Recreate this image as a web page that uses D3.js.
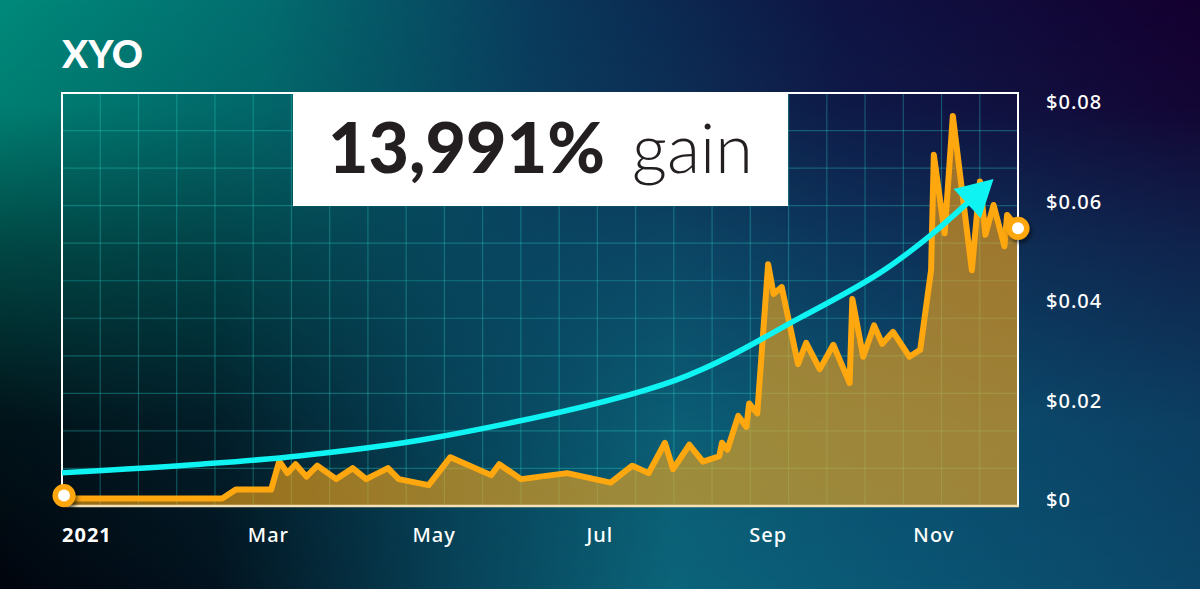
<!DOCTYPE html>
<html>
<head>
<meta charset="utf-8">
<script src="https://cdn.jsdelivr.net/npm/d3@7"></script>
<style>
  html, body { margin: 0; padding: 0; background: #0a3a50; }
  svg { display: block; }
</style>
</head>
<body>
<script>
// ---------- DATA ----------
const priceDates = ["2020-12-15","2021-02-12","2021-02-17","2021-03-02","2021-03-05","2021-03-08","2021-03-11","2021-03-15","2021-03-19","2021-03-26",
  "2021-04-01","2021-04-06","2021-04-14","2021-04-18","2021-04-29","2021-05-07","2021-05-22","2021-05-25","2021-06-02","2021-06-19",
  "2021-07-05","2021-07-13","2021-07-19","2021-07-25","2021-07-28","2021-08-03","2021-08-08","2021-08-14","2021-08-15","2021-08-17",
  "2021-08-21","2021-08-24","2021-08-25","2021-08-28","2021-09-01","2021-09-03","2021-09-06","2021-09-12","2021-09-15","2021-09-20",
  "2021-09-25","2021-10-01","2021-10-02","2021-10-06","2021-10-10","2021-10-13","2021-10-17","2021-10-23","2021-10-27","2021-10-31",
  "2021-11-01","2021-11-05","2021-11-08","2021-11-15","2021-11-18","2021-11-20","2021-11-23","2021-11-27","2021-11-28","2021-12-02"];
const priceValues = [0.0003,0.0003,0.0021,0.0021,0.0078,0.0054,0.0072,0.0047,0.0069,0.0042,
  0.0064,0.0042,0.0064,0.0042,0.0030,0.0086,0.0050,0.0072,0.0042,0.0054,
  0.0035,0.0069,0.0054,0.0115,0.0062,0.0111,0.0077,0.0088,0.0115,0.0101,
  0.0169,0.0147,0.0194,0.0174,0.0474,0.0414,0.0428,0.0273,0.0316,0.0263,
  0.0312,0.0235,0.0404,0.0288,0.0351,0.0314,0.0338,0.0288,0.0302,0.0462,
  0.0694,0.0536,0.0772,0.0462,0.0640,0.0533,0.0593,0.0510,0.0573,0.0546];

// trend arrow (hand-drawn guide in the original)
const trendDates = ["2020-12-15","2021-02-04","2021-03-13","2021-05-03","2021-07-29","2021-09-13","2021-10-12","2021-10-31","2021-11-23"];
const trendValues = [0.0055,0.0072,0.0089,0.0127,0.0241,0.0367,0.0456,0.0533,0.0645];

const xTickDates = ["2021-01-01","2021-03-01","2021-05-01","2021-07-01","2021-09-01","2021-11-01"];
const xTickLabels = ["2021","Mar","May","Jul","Sep","Nov"];
const yTickValues = [0, 0.02, 0.04, 0.06, 0.08];
const yTickLabels = ["$0","$0.02","$0.04","$0.06","$0.08"];

const titleText = "XYO";
const gainNumber = "13,991%";
const gainWord = "gain";
const domainStart = "2020-12-15", domainEnd = "2021-12-02";

// ---------- LAYOUT ----------
const W = 1200, H = 589;
const plot = {left: 62, right: 1018, top: 93, bottom: 506};
const parse = d3.utcParse("%Y-%m-%d");

const x = d3.scaleUtc().domain([parse(domainStart), parse(domainEnd)]).range([plot.left, plot.right]);
const y = d3.scaleLinear().domain([0, 0.08]).range([500, 102]);

const svg = d3.select("body").append("svg").attr("width", W).attr("height", H);
const defs = svg.append("defs");

// background gradients (bilinear: top row blended into bottom row)
const topRow = defs.append("linearGradient").attr("id","topRow").attr("gradientUnits","userSpaceOnUse")
  .attr("x1",0).attr("y1",0).attr("x2",W).attr("y2",0);
[[0,"#008a7b"],[0.22,"#036d6f"],[0.45,"#0a3a5c"],[0.7,"#0f1444"],[1,"#140030"]]
  .forEach(([o,c]) => topRow.append("stop").attr("offset",o).attr("stop-color",c));
const botRow = defs.append("linearGradient").attr("id","botRow").attr("gradientUnits","userSpaceOnUse")
  .attr("x1",0).attr("y1",0).attr("x2",W).attr("y2",0);
[[0,"#01040d"],[0.18,"#02131f"],[0.38,"#074258"],[0.56,"#0b6479"],[0.75,"#0a5674"],[1,"#0b4668"]]
  .forEach(([o,c]) => botRow.append("stop").attr("offset",o).attr("stop-color",c));
const vMaskGrad = defs.append("linearGradient").attr("id","vMaskGrad").attr("gradientUnits","userSpaceOnUse")
  .attr("x1",0).attr("y1",0).attr("x2",0).attr("y2",H);
[[0,"#000"],[0.18,"#151515"],[0.42,"#808080"],[0.72,"#e4e4e4"],[1,"#fff"]]
  .forEach(([o,c]) => vMaskGrad.append("stop").attr("offset",o).attr("stop-color",c));
defs.append("mask").attr("id","vMask").attr("maskUnits","userSpaceOnUse")
  .attr("x",0).attr("y",0).attr("width",W).attr("height",H)
  .append("rect").attr("width",W).attr("height",H).attr("fill","url(#vMaskGrad)");

svg.append("rect").attr("width",W).attr("height",H).attr("fill","url(#topRow)");
svg.append("rect").attr("width",W).attr("height",H).attr("fill","url(#botRow)").attr("mask","url(#vMask)");

// shadow filter
const f = defs.append("filter").attr("id","shadow").attr("x","-50%").attr("y","-50%").attr("width","200%").attr("height","200%");
f.append("feDropShadow").attr("dx",2).attr("dy",3).attr("stdDeviation",2).attr("flood-color","#000").attr("flood-opacity",0.55);

// arrow marker
defs.append("marker").attr("id","arrowHead").attr("markerUnits","userSpaceOnUse")
  .attr("markerWidth",40).attr("markerHeight",44).attr("refX",36).attr("refY",22)
  .attr("orient","auto").style("overflow","visible")
  .append("path").attr("d","M0,2 L36,22 L0,42 Z").attr("fill","#0ff4f2");

// ---------- GRID ----------
const gx = d3.scaleLinear().domain([0,25]).range([plot.left, plot.right]);
const gy = d3.scaleLinear().domain([0,11]).range([plot.top, plot.bottom]);
const grid = svg.append("g").attr("stroke","rgba(40,205,195,0.34)").attr("stroke-width",1.2);
grid.selectAll("line.v").data(d3.range(1,25)).join("line").attr("class","v")
  .attr("x1",d=>gx(d)).attr("x2",d=>gx(d)).attr("y1",plot.top).attr("y2",plot.bottom);
grid.selectAll("line.h").data(d3.range(1,11)).join("line").attr("class","h")
  .attr("y1",d=>gy(d)).attr("y2",d=>gy(d)).attr("x1",plot.left).attr("x2",plot.right);

// ---------- DATA MARKS ----------
const data = priceDates.map((d,i) => ({date: parse(d), value: priceValues[i]}));

const area = d3.area().x(d=>x(d.date)).y0(plot.bottom).y1(d=>y(d.value)).curve(d3.curveLinear);
svg.append("path").datum(data).attr("d", area).attr("fill","rgba(255,170,22,0.6)");

// frame
svg.append("path")
  .attr("d", `M${plot.left},${plot.bottom} L${plot.left},${plot.top} L${plot.right},${plot.top} L${plot.right},${plot.bottom}`)
  .attr("fill","none").attr("stroke","#ffffff").attr("stroke-width",2);
svg.append("line").attr("x1",plot.left).attr("x2",plot.right+1).attr("y1",plot.bottom).attr("y2",plot.bottom)
  .attr("stroke","#f6e1b6").attr("stroke-width",2.5);

// annotation box
svg.append("rect").attr("x",293).attr("y",92).attr("width",495).attr("height",114).attr("fill","#ffffff");

function fitText(sel, targetW) {
  const w = sel.node().getComputedTextLength();
  const fs = parseFloat(sel.attr("font-size"));
  if (w > 0) sel.attr("font-size", fs * targetW / w);
}
const t1 = svg.append("text").attr("x",328).attr("y",173).attr("font-family","Lato, 'Open Sans', sans-serif")
  .attr("font-weight",900).attr("font-size",64).attr("fill","#231f20").text(gainNumber);
fitText(t1, 277);
const t2 = svg.append("text").attr("x",632).attr("y",173).attr("font-family","Lato, 'Open Sans', sans-serif")
  .attr("font-weight",300).attr("font-size",64).attr("fill","#231f20").text(gainWord);
fitText(t2, 121);

// price line
const line = d3.line().x(d=>x(d.date)).y(d=>y(d.value)).curve(d3.curveLinear);
svg.append("path").datum(data).attr("d", line).attr("fill","none")
  .attr("stroke","#ffa70f").attr("stroke-width",6).attr("stroke-linejoin","round").attr("stroke-linecap","round");

// trend arrow
const trend = trendDates.map((d,i) => ({date: parse(d), value: trendValues[i]}));
const tline = d3.line().x(d=>x(d.date)).y(d=>y(d.value)).curve(d3.curveCatmullRom.alpha(0.5));
const tp = svg.append("path").datum(trend).attr("d", tline).attr("fill","none")
  .attr("stroke","#0ff4f2").attr("stroke-width",5.5).attr("stroke-linecap","butt")
  .attr("marker-end","url(#arrowHead)");
const L = tp.node().getTotalLength();
tp.attr("stroke-dasharray", `${L-28} ${L}`);

// end-point circles
[data[0], data[data.length-1]].forEach((d,i) => {
  const g = svg.append("g").attr("filter","url(#shadow)");
  const cx = x(d.date) + (i===0 ? 2 : 0), cy = y(d.value) - (i===0 ? 3 : 0);
  g.append("circle").attr("cx",cx).attr("cy",cy).attr("r",11.5).attr("fill","#ffa70f");
  g.append("circle").attr("cx",cx).attr("cy",cy).attr("r",6).attr("fill","#ffffff");
});

// ---------- AXES ----------
const yAxis = svg.append("g").attr("font-family","'Noto Sans', 'Open Sans', sans-serif").attr("font-size",20)
  .attr("font-weight",500).attr("fill","#ffffff").attr("letter-spacing",1);
yAxis.selectAll("text").data(yTickValues).join("text")
  .attr("x",1046).attr("y",d=>y(d)).attr("dy","0.36em").text((d,i)=>yTickLabels[i]);

const xAxis = svg.append("g").attr("font-family","'Noto Sans', 'Open Sans', sans-serif").attr("font-size",20)
  .attr("fill","#ffffff").attr("letter-spacing",1);
xAxis.selectAll("text").data(xTickDates).join("text")
  .attr("x",(d,i)=> i===0 ? plot.left : x(parse(d)))
  .attr("y",542)
  .attr("text-anchor",(d,i)=> i===0 ? "start" : "middle")
  .attr("font-weight",(d,i)=> i===0 ? 700 : 500)
  .text((d,i)=>xTickLabels[i]);

// title
const tt = svg.append("text").attr("x",62).attr("y",68).attr("font-family","Lato, 'Open Sans', sans-serif")
  .attr("font-weight",900).attr("font-size",37).attr("fill","#ffffff").text(titleText);
fitText(tt, 81);
</script>
</body>
</html>
